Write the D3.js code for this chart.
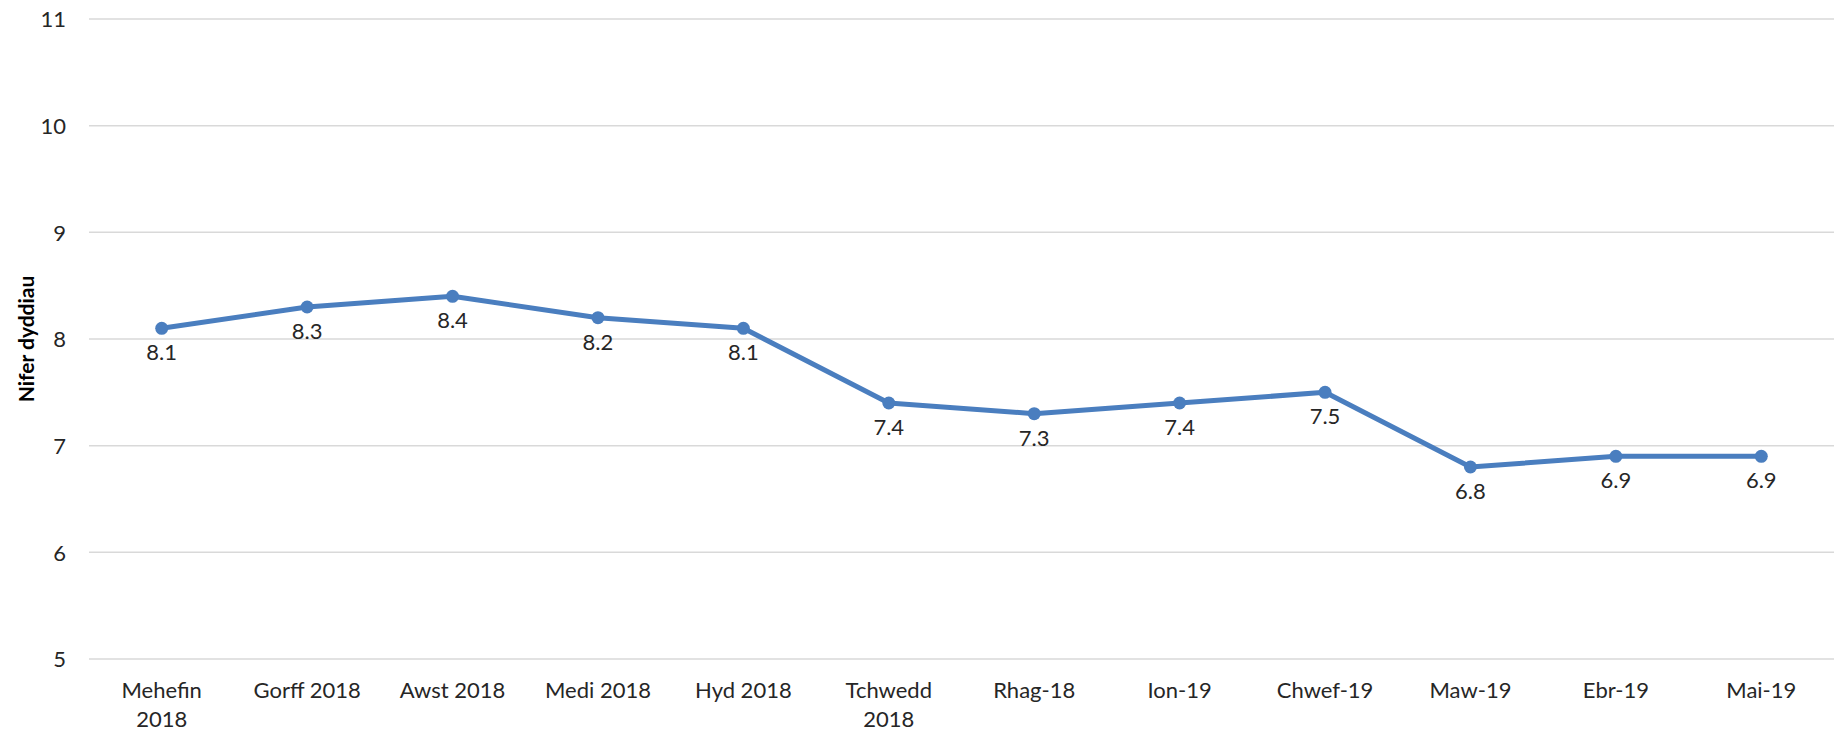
<!DOCTYPE html>
<html><head><meta charset="utf-8">
<script src="https://cdn.jsdelivr.net/npm/d3@7"></script>
<style>body{margin:0;background:#fff;} svg{display:block;}</style>
</head><body>
<svg id="chart" width="1834" height="731"></svg>
<script>
const categories = ["Mehefin 2018","Gorff 2018","Awst 2018","Medi 2018","Hyd 2018","Tchwedd 2018","Rhag-18","Ion-19","Chwef-19","Maw-19","Ebr-19","Mai-19"];
const values = [8.1,8.3,8.4,8.2,8.1,7.4,7.3,7.4,7.5,6.8,6.9,6.9];
const yTicks = [5,6,7,8,9,10,11];
const yTitle = "Nifer dyddiau";

const svg = d3.select("#chart");
const font = "Lato, 'Open Sans', sans-serif";
const m = {left: 89, right: 0, top: 19, bottom: 72};
const W = 1834, H = 731;
const x = d3.scaleBand().domain(categories).range([m.left, W - m.right]);
const y = d3.scaleLinear().domain([5, 11]).range([H - m.bottom, m.top]);

// gridlines
svg.append("g").selectAll("line").data(yTicks).join("line")
  .attr("x1", m.left).attr("x2", W - m.right)
  .attr("y1", d => y(d)).attr("y2", d => y(d))
  .attr("stroke", "#d9d9d9").attr("stroke-width", 1.5);

// y axis labels
const yAxis = d3.axisLeft(y).tickValues(yTicks).tickSize(0).tickPadding(0).tickFormat(d3.format("d"));
const ya = svg.append("g").attr("transform", `translate(66,0)`).call(yAxis);
ya.select(".domain").remove();
ya.selectAll("text").attr("font-family", font).attr("font-size", 22).attr("fill", "#262626").attr("dy", "0.35em");

// y title
svg.append("text")
  .attr("transform", `translate(34,${(y(5)+y(11))/2}) rotate(-90)`)
  .attr("text-anchor", "middle")
  .attr("font-family", font).attr("font-weight", "bold").attr("font-size", 21)
  .attr("fill", "#000").text(yTitle);

// x axis labels
const xAxis = d3.axisBottom(x).tickSize(0).tickPadding(0);
const xa = svg.append("g").attr("transform", `translate(0,${y(5)})`).call(xAxis);
xa.select(".domain").remove();
xa.selectAll("text").each(function(d){
  const t = d3.select(this);
  t.text(null).attr("font-family", font).attr("font-size", 22).attr("fill", "#262626").attr("y", 0).attr("dy", null);
  const words = d.split(" ");
  const lines = (words.length === 2 && words[0].length >= 7) ? words : [d];
  lines.forEach((ln, i) => t.append("tspan").attr("x", 0).attr("y", 39 + i * 29).text(ln));
});

// line
const cx = d => x(d) + x.bandwidth() / 2;
const line = d3.line().x((d, i) => cx(categories[i])).y(d => y(d));
svg.append("path").datum(values).attr("d", line)
  .attr("fill", "none").attr("stroke", "#4a7ebf").attr("stroke-width", 5).attr("stroke-linejoin", "round");

svg.append("g").selectAll("circle").data(values).join("circle")
  .attr("cx", (d, i) => cx(categories[i])).attr("cy", d => y(d)).attr("r", 6.5).attr("fill", "#4a7ebf");

// data labels
svg.append("g").selectAll("text").data(values).join("text")
  .attr("x", (d, i) => cx(categories[i])).attr("y", d => y(d) + 32)
  .attr("text-anchor", "middle").attr("font-family", font).attr("font-size", 22).attr("fill", "#262626")
  .text(d => d3.format(".1f")(d));
</script>
</body></html>
